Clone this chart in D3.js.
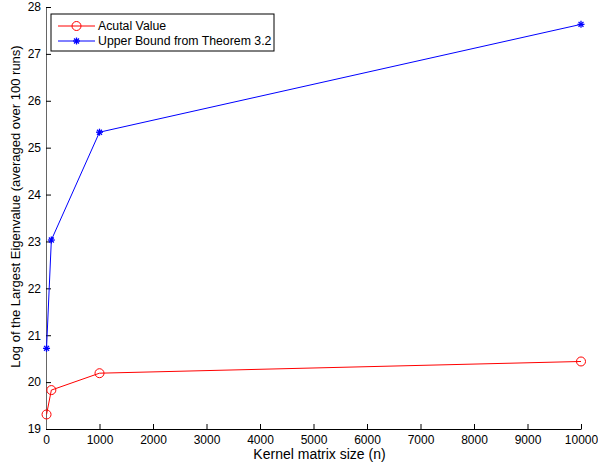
<!DOCTYPE html>
<html lang="en">
<head>
<meta charset="UTF-8">
<title>Largest Eigenvalue vs Kernel matrix size</title>
<script src="https://d3js.org/d3.v7.min.js"></script>
<style>
    body { margin: 0; background: #fff; }
    svg text { font-family: "Liberation Sans", Arial, sans-serif; }
    .tick text { font-size: 12px; fill: #000; }
    .axis-label { fill: #000; }
    .legend-text { font-size: 12.3px; fill: #000; }
</style>
</head>
<body>
<svg width="598" height="465"></svg>
<script>
    // data
    const sizes = [10, 100, 1000, 10000];
    const actualValue = [19.31, 19.83, 20.19, 20.44];
    const upperBound = [20.72, 23.03, 25.33, 27.63];
    const xTicks = [0, 1000, 2000, 3000, 4000, 5000, 6000, 7000, 8000, 9000, 10000];
    const yTicks = [19, 20, 21, 22, 23, 24, 25, 26, 27, 28];

    const margin = { top: 7, right: 17, bottom: 36, left: 46 };
    const width = 598 - margin.left - margin.right;
    const height = 465 - margin.top - margin.bottom;

    const svg = d3.select("svg")
        .append("g")
        .attr("transform", `translate(${margin.left},${margin.top})`);

    const x = d3.scaleLinear().domain([0, 10000]).range([0, width]);
    const y = d3.scaleLinear().domain([19, 28]).range([height, 0]);

    // axes, ticks inward like MATLAB
    const xAxis = svg.append("g")
        .attr("transform", `translate(0,${height})`)
        .call(d3.axisBottom(x).tickValues(xTicks).tickFormat(d3.format("d"))
            .tickSizeInner(-5).tickSizeOuter(0).tickPadding(6));
    const yAxis = svg.append("g")
        .call(d3.axisLeft(y).tickValues(yTicks)
            .tickSizeInner(-5).tickSizeOuter(0).tickPadding(5));
    xAxis.select(".domain").attr("stroke", "#000");
    yAxis.select(".domain").attr("stroke", "#666");
    [xAxis, yAxis].forEach(a => a.selectAll(".tick line").attr("stroke", "#000"));

    const series = [
        { name: "Acutal Value", values: actualValue, color: "#ff0000", marker: "circle" },
        { name: "Upper Bound from Theorem 3.2", values: upperBound, color: "#0000ff", marker: "star" }
    ];

    const line = d3.line()
        .x(d => x(d[0]))
        .y(d => y(d[1]));

    function drawMarker(g, type, color, cx, cy) {
        if (type === "circle") {
            g.append("circle")
                .attr("cx", cx).attr("cy", cy).attr("r", 4.5)
                .attr("fill", "none").attr("stroke", color).attr("stroke-width", 1);
        } else {
            const r = 3.5;
            [0, 45, 90, 135].forEach(a => {
                const rad = a * Math.PI / 180;
                g.append("line")
                    .attr("x1", cx - r * Math.cos(rad)).attr("y1", cy - r * Math.sin(rad))
                    .attr("x2", cx + r * Math.cos(rad)).attr("y2", cy + r * Math.sin(rad))
                    .attr("stroke", color).attr("stroke-width", 1.3);
            });
        }
    }

    series.forEach(s => {
        const pts = sizes.map((n, i) => [n, s.values[i]]);
        svg.append("path")
            .datum(pts)
            .attr("fill", "none")
            .attr("stroke", s.color)
            .attr("stroke-width", 1)
            .attr("d", line);
        pts.forEach(p => drawMarker(svg, s.marker, s.color, x(p[0]), y(p[1])));
    });

    // axis labels
    svg.append("text")
        .attr("class", "axis-label")
        .style("font-size", "14px")
        .attr("x", 273.5)
        .attr("y", height + 30)
        .attr("text-anchor", "middle")
        .text("Kernel matrix size (n)");

    svg.append("text")
        .attr("class", "axis-label")
        .style("font-size", "13px")
        .attr("transform", "rotate(-90)")
        .attr("x", -199.5)
        .attr("y", -26.5)
        .attr("text-anchor", "middle")
        .text("Log of the Largest Eigenvalue (averaged over 100 runs)");

    // legend
    const legend = svg.append("g").attr("transform", "translate(5,7)");
    legend.append("rect")
        .attr("width", 223).attr("height", 37)
        .attr("fill", "#fff").attr("stroke", "#000").attr("stroke-width", 1);
    series.forEach((s, i) => {
        const ly = 12 + i * 15;
        legend.append("line")
            .attr("x1", 7).attr("x2", 44).attr("y1", ly).attr("y2", ly)
            .attr("stroke", s.color).attr("stroke-width", 1);
        drawMarker(legend, s.marker, s.color, 25.5, ly);
        legend.append("text")
            .attr("class", "legend-text")
            .attr("x", 47).attr("y", ly + 4)
            .text(s.name);
    });
</script>
</body>
</html>
